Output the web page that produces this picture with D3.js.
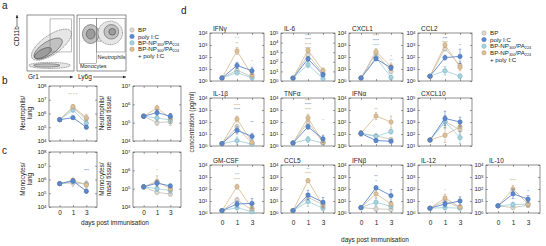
<!DOCTYPE html>
<html>
<head>
<meta charset="utf-8">
<script src="https://cdn.jsdelivr.net/npm/d3@7"></script>
<style>
body { margin: 0; background: #fff; }
svg { display: block; font-family: 'Liberation Sans', Arial, sans-serif; }
</style>
</head>
<body>
<svg id="fig" width="546" height="246"></svg>
<script>
// Global data (values are log10 of the plotted means)
var days = ['0', '1', '3'];
var groups = ['BP', 'poly I:C', 'BP-NP300/PA224', 'BP-NP300/PA224 + poly I:C'];
var groupFill = ['#dedad3', '#5c88cc', '#a5d3df', '#dcc099'];
var groupStroke = ['#a9a49b', '#3f69ae', '#70abbc', '#b9986b'];
var drawOrder = [0, 2, 3, 1];

// rows: BP, poly I:C, BP-NP, BP-NP + poly I:C
var neutLung = [[5.55, 6.4, 5.6], [5.55, 5.7, 5.0], [5.55, 6.25, 5.3], [5.55, 6.5, 5.7]];
var neutLungErr = [[0.05, 0.15, 0.2], [0.05, 0.1, 0.1], [0.05, 0.15, 0.2], [0.05, 0.15, 0.25]];
var neutNasal = [[5.35, 5.0, 5.05], [5.35, 5.55, 5.35], [5.35, 5.25, 5.15], [5.35, 5.8, 5.25]];
var neutNasalErr = [[0.1, 0.15, 0.2], [0.1, 0.15, 0.15], [0.1, 0.2, 0.2], [0.1, 0.15, 0.25]];
var monoLung = [[5.7, 5.75, 5.7], [5.7, 5.9, 5.15], [5.7, 5.85, 5.65], [5.7, 5.95, 5.6]];
var monoLungErr = [[0.05, 0.25, 0.2], [0.05, 0.15, 0.15], [0.05, 0.15, 0.15], [0.05, 0.15, 0.2]];
var monoNasal = [[5.1, 4.8, 4.7], [5.1, 5.3, 5.15], [5.1, 5.0, 4.9], [5.1, 5.4, 5.0]];
var monoNasalErr = [[0.1, 0.1, 0.1], [0.1, 0.15, 0.1], [0.1, 0.15, 0.15], [0.1, 0.3, 0.15]];

var ifng = [[0.25, 0.9, 0.35], [0.25, 1.3, 0.85], [0.25, 0.7, 0.25], [0.25, 2.5, 0.5]];
var ifngErr = [[0.05, 0.2, 0.2], [0.05, 0.25, 0.3], [0.05, 0.2, 0.1], [0.05, 0.3, 0.25]];
var il6 = [[0.3, 2.7, 0.8], [0.3, 2.3, 0.65], [0.3, 1.7, 0.25], [0.3, 3.2, 1.1]];
var il6Err = [[0.05, 0.25, 0.2], [0.05, 0.25, 0.2], [0.05, 0.3, 0.15], [0.05, 0.25, 0.25]];
var cxcl1 = [[0.25, 2.3, 0.8], [0.25, 1.85, 1.1], [0.25, 1.95, 0.3], [0.25, 2.45, 1.2]];
var cxcl1Err = [[0.05, 0.2, 0.2], [0.05, 0.15, 0.2], [0.05, 0.2, 0.15], [0.05, 0.25, 0.3]];
var ccl2 = [[0.4, 2.7, 1.3], [0.4, 1.95, 2.05], [0.4, 0.85, 0.4], [0.4, 3.0, 1.15]];
var ccl2Err = [[0.05, 0.2, 0.3], [0.05, 0.2, 0.6], [0.05, 0.35, 0.2], [0.05, 0.2, 0.3]];
var il1b = [[0.2, 1.6, 0.2], [0.2, 1.3, 0.8], [0.2, 0.45, 0.15], [0.2, 2.25, 0.3]];
var il1bErr = [[0.05, 0.2, 0.1], [0.05, 0.3, 0.25], [0.05, 0.3, 0.1], [0.05, 0.25, 0.15]];
var tnfa = [[0.25, 2.0, 0.3], [0.25, 1.6, 0.6], [0.25, 0.55, 0.25], [0.25, 2.35, 0.3]];
var tnfaErr = [[0.05, 0.25, 0.15], [0.05, 0.2, 0.3], [0.05, 0.25, 0.1], [0.05, 0.3, 0.15]];
var ifna = [[1.05, 0.85, 0.55], [1.05, 0.45, 0.4], [1.05, 0.8, 1.2], [1.05, 2.5, 2.0]];
var ifnaErr = [[0.2, 0.15, 0.15], [0.2, 0.15, 0.15], [0.2, 0.15, 0.2], [0.2, 0.3, 0.5]];
var cxcl10 = [[1.5, 3.05, 2.35], [1.5, 3.3, 3.0], [1.5, 3.0, 1.7], [1.5, 1.9, 2.6]];
var cxcl10Err = [[0.1, 0.5, 0.4], [0.1, 0.6, 0.4], [0.1, 0.5, 0.5], [0.1, 0.6, 0.4]];
var gmcsf = [[0.2, 1.1, 0.25], [0.2, 0.75, 0.8], [0.2, 0.45, 0.1], [0.2, 2.2, 0.4]];
var gmcsfErr = [[0.05, 0.2, 0.1], [0.05, 0.25, 0.4], [0.05, 0.2, 0.1], [0.05, 0.2, 0.2]];
var ccl5 = [[0.2, 1.3, 0.7], [0.2, 1.5, 0.9], [0.2, 0.95, 0.4], [0.2, 2.7, 0.6]];
var ccl5Err = [[0.05, 0.3, 0.2], [0.05, 0.4, 0.4], [0.05, 0.4, 0.2], [0.05, 0.15, 0.2]];
var ifnb = [[0.45, 0.35, 0.3], [0.45, 2.1, 1.45], [0.45, 0.9, 0.55], [0.45, 1.6, 0.75]];
var ifnbErr = [[0.1, 0.2, 0.15], [0.1, 0.15, 0.5], [0.1, 0.3, 0.2], [0.1, 0.3, 0.2]];
var il12 = [[0.4, 1.0, 0.45], [0.4, 0.75, 1.0], [0.4, 0.45, 0.4], [0.4, 1.25, 0.5]];
var il12Err = [[0.05, 0.2, 0.1], [0.05, 0.25, 0.35], [0.05, 0.2, 0.1], [0.05, 0.3, 0.15]];
var il10 = [[0.6, 0.45, 0.65], [0.6, 1.6, 1.15], [0.6, 0.7, 0.75], [0.6, 2.0, 0.75]];
var il10Err = [[0.05, 0.15, 0.2], [0.05, 0.4, 0.3], [0.05, 0.2, 0.2], [0.05, 0.3, 0.25]];

// significance marks: day index, log10 height, group colour, text
var neutLungStars = [{d: 1, v: 7.4, g: 3, t: '**  *  *'}];
var monoLungStars = [{d: 2, v: 6.7, g: 1, t: '***'}];
var monoNasalStars = [{d: 1, v: 6.0, g: 3, t: '*'}];
var ifngStars = [{d: 1, v: 3.6, g: 2, t: '* *'}, {d: 1, v: 3.2, g: 3, t: '**'}, {d: 2, v: 1.7, g: 0, t: '*'}];
var il6Stars = [{d: 1, v: 4.8, g: 2, t: '****'}, {d: 1, v: 4.35, g: 1, t: '****'}, {d: 1, v: 3.9, g: 3, t: '****'}, {d: 1, v: 3.45, g: 0, t: '****'}];
var cxcl1Stars = [{d: 1, v: 3.8, g: 3, t: '****'}, {d: 1, v: 3.42, g: 1, t: '****'}, {d: 1, v: 3.04, g: 2, t: '****'}, {d: 2, v: 2.1, g: 3, t: '*'}, {d: 2, v: 1.72, g: 2, t: '**'}];
var ccl2Stars = [{d: 1, v: 3.95, g: 3, t: '****'}, {d: 1, v: 3.6, g: 1, t: '***'}, {d: 1, v: 3.25, g: 3, t: '****'}, {d: 2, v: 3.0, g: 1, t: '*'}];
var il1bStars = [{d: 1, v: 3.45, g: 3, t: '****'}, {d: 1, v: 3.05, g: 1, t: '****'}, {d: 2, v: 2.0, g: 1, t: '**'}];
var tnfaStars = [{d: 1, v: 3.85, g: 3, t: '****'}, {d: 1, v: 3.47, g: 1, t: '****'}, {d: 1, v: 3.09, g: 3, t: '****'}, {d: 2, v: 2.2, g: 2, t: '*'}];
var ifnaStars = [{d: 1, v: 3.1, g: 3, t: '**'}];
var cxcl10Stars = [];
var gmcsfStars = [{d: 1, v: 3.25, g: 2, t: '***'}, {d: 1, v: 2.85, g: 3, t: '****'}];
var ccl5Stars = [{d: 1, v: 3.7, g: 2, t: '**'}, {d: 1, v: 3.3, g: 3, t: '****'}];
var ifnbStars = [{d: 1, v: 3.05, g: 1, t: '**'}, {d: 1, v: 2.65, g: 1, t: '*'}];
var il12Stars = [{d: 1, v: 1.95, g: 3, t: '*'}];
var il10Stars = [{d: 1, v: 2.75, g: 3, t: '****'}, {d: 2, v: 1.85, g: 1, t: '*'}];

// flow plots, normalised axes: [cx, cy, rx, ry, angle]
var flowContours1 = [
	[0.52, 0.47, 0.50, 0.17, -35], [0.45, 0.40, 0.35, 0.12, -33], [0.34, 0.32, 0.20, 0.07, -28],
	[0.48, 0.10, 0.44, 0.055, 0], [0.42, 0.10, 0.28, 0.03, 0]
];
var flowContours2 = [
	[0.48, 0.64, 0.30, 0.11, 0],
	[0.28, 0.66, 0.17, 0.17, 0], [0.28, 0.66, 0.09, 0.09, 0],
	[0.68, 0.68, 0.25, 0.21, 0], [0.70, 0.70, 0.15, 0.13, 0], [0.72, 0.70, 0.07, 0.06, 0]
];
var flowGates1 = [[0.49, 0.34, 0.95, 0.93]];
var flowGates2 = [[0.05, 0.13, 0.40, 0.94], [0.40, 0.34, 0.98, 0.94]];

var svg = d3.select('#fig');
var ink = '#222';

var makeTranslate = function(x, y) {
	return 'translate(' + x + ',' + y + ')';
};

var powLabel = function(sel) {
	sel.each(function(d) {
		var e = Math.round(Math.log10(d));
		var t = d3.select(this);
		t.text('10');
		t.append('tspan').attr('dy', '-0.45em').attr('font-size', '4.3px').text(e);
	});
};

/*
 * One small log-scale time course.
 */
var drawPlot = function(cfg) {
	var g = svg.append('g');
	var x = d3.scalePoint().domain(days).range([cfg.left, cfg.left + cfg.w]).padding(0.8);
	var y = d3.scaleLog()
		.domain([Math.pow(10, cfg.lo), Math.pow(10, cfg.hi)])
		.range([cfg.top + cfg.h, cfg.top]);
	var decades = d3.range(cfg.lo, cfg.hi + 1).map(function(e) {
		return Math.pow(10, e);
	});

	var styleAxis = function(a) {
		a.attr('font-family', null).attr('font-size', null);
		a.select('.domain').remove();
		a.selectAll('line').attr('stroke', '#444').attr('stroke-width', 0.5);
		a.selectAll('text').attr('fill', ink).attr('font-size', '6px');
	};

	g.append('g').attr('transform', makeTranslate(cfg.left, 0))
		.call(d3.axisLeft(y).tickValues(decades).tickSizeInner(-2).tickSizeOuter(0).tickPadding(2.5))
		.call(styleAxis)
		.selectAll('text').call(powLabel);
	g.append('g').attr('transform', makeTranslate(cfg.left + cfg.w, 0))
		.call(d3.axisRight(y).tickValues(decades).tickSizeInner(-2).tickSizeOuter(0).tickFormat(''))
		.call(styleAxis);
	g.append('g').attr('transform', makeTranslate(0, cfg.top))
		.call(d3.axisTop(x).tickSizeInner(-2).tickSizeOuter(0).tickFormat(''))
		.call(styleAxis);
	var bottom = g.append('g').attr('transform', makeTranslate(0, cfg.top + cfg.h))
		.call(d3.axisBottom(x).tickSizeInner(-2).tickSizeOuter(0).tickPadding(cfg.xPad || 4))
		.call(styleAxis);
	if (cfg.showX) {
		bottom.selectAll('text').attr('font-size', '6.5px');
	} else {
		bottom.selectAll('text').remove();
	}

	g.append('rect')
		.attr('x', cfg.left).attr('y', cfg.top)
		.attr('width', cfg.w).attr('height', cfg.h)
		.attr('fill', 'none').attr('stroke', '#444').attr('stroke-width', 0.6);

	var yv = function(v) {
		return y(Math.pow(10, Math.max(cfg.lo, Math.min(cfg.hi, v))));
	};

	var line = d3.line()
		.x(function(d, i) { return x(days[i]); })
		.y(function(d) { return yv(d); });

	drawOrder.forEach(function(s) {
		var vals = cfg.data[s];
		var errs = cfg.err[s];
		var sg = g.append('g');
		sg.append('path')
			.attr('d', line(vals))
			.attr('fill', 'none')
			.attr('stroke', s === 0 ? '#c9c4ba' : groupFill[s])
			.attr('stroke-width', 0.9);
		vals.forEach(function(v, i) {
			var cx = x(days[i]);
			var y0 = yv(v - errs[i]);
			var y1 = yv(v + errs[i]);
			sg.append('line').attr('x1', cx).attr('x2', cx).attr('y1', y0).attr('y2', y1)
				.attr('stroke', groupStroke[s]).attr('stroke-width', 0.5);
			[y0, y1].forEach(function(yy) {
				sg.append('line').attr('x1', cx - 1.3).attr('x2', cx + 1.3).attr('y1', yy).attr('y2', yy)
					.attr('stroke', groupStroke[s]).attr('stroke-width', 0.5);
			});
		});
		sg.selectAll('circle').data(vals).enter().append('circle')
			.attr('cx', function(d, i) { return x(days[i]); })
			.attr('cy', function(d) { return yv(d); })
			.attr('r', 2.2)
			.attr('fill', groupFill[s])
			.attr('stroke', groupStroke[s])
			.attr('stroke-width', 0.5);
	});

	g.selectAll('text.star').data(cfg.stars || []).enter().append('text')
		.attr('class', 'star')
		.attr('x', function(d) { return x(days[d.d]); })
		.attr('y', function(d) { return yv(d.v) + 2; })
		.attr('text-anchor', 'middle')
		.attr('font-size', '4.2px')
		.attr('fill', function(d) { return groupStroke[d.g]; })
		.text(function(d) { return d.t; });

	if (cfg.title) {
		g.append('text')
			.attr('x', cfg.left + 3)
			.attr('y', cfg.top - 2)
			.attr('font-size', '6.5px')
			.attr('fill', ink)
			.text(cfg.title);
	}
};

/*
 * Legend with subscripts.
 */
var drawLegend = function(lx, ly, step) {
	var g = svg.append('g').attr('font-size', '6.2px').attr('fill', ink);
	groups.forEach(function(name, i) {
		var yy = ly + i * step;
		g.append('circle').attr('cx', lx).attr('cy', yy).attr('r', 2.2)
			.attr('fill', groupFill[i]).attr('stroke', groupStroke[i]).attr('stroke-width', 0.5);
		var t = g.append('text').attr('x', lx + 6).attr('y', yy + 2.2);
		if (i < 2) {
			t.text(name);
		} else {
			t.append('tspan').text('BP-NP');
			t.append('tspan').attr('font-size', '3.8px').attr('dy', 0.9).text('300');
			t.append('tspan').attr('dy', -0.9).text('/PA');
			t.append('tspan').attr('font-size', '3.8px').attr('dy', 0.9).text('224');
		}
	});
	g.append('text').attr('x', lx + 6).attr('y', ly + 4 * step + 2.6).text('+  poly I:C');
};

/*
 * Flow cytometry gating plots.
 */
var drawFlow = function(x0, x1, y0, y1, contours, gates) {
	var fx = d3.scaleLinear().domain([0, 1]).range([x0, x1]);
	var fy = d3.scaleLinear().domain([0, 1]).range([y1, y0]);
	var g = svg.append('g');
	var shades = d3.scaleLinear().domain([0, 2]).range(['#e6e6e6', '#9c9c9c']);
	var level = 0;
	contours.forEach(function(c, i) {
		if (i > 0 && c[2] >= contours[i - 1][2]) {
			level = 0;
		} else if (i > 0) {
			level += 1;
		}
		g.append('ellipse')
			.attr('transform', makeTranslate(fx(c[0]), fy(c[1])) + ' rotate(' + c[4] + ')')
			.attr('rx', c[2] * (x1 - x0))
			.attr('ry', c[3] * (y1 - y0))
			.attr('fill', shades(Math.min(level, 2)))
			.attr('stroke', '#333')
			.attr('stroke-width', 0.45)
			.attr('stroke-dasharray', i === 0 || level === 0 ? '1.2,0.6' : null);
	});
	gates.forEach(function(r) {
		g.append('rect')
			.attr('x', fx(r[0])).attr('y', fy(r[3]))
			.attr('width', fx(r[2]) - fx(r[0])).attr('height', fy(r[1]) - fy(r[3]))
			.attr('fill', 'none').attr('stroke', '#777').attr('stroke-width', 0.5);
	});
	g.append('rect')
		.attr('x', x0).attr('y', y0).attr('width', x1 - x0).attr('height', y1 - y0)
		.attr('fill', 'none').attr('stroke', '#444').attr('stroke-width', 0.6);
	return {x: fx, y: fy};
};

var letter = function(t, x, y) {
	svg.append('text').attr('x', x).attr('y', y).attr('font-size', '10px').attr('fill', ink).text(t);
};

var drawArrow = function(xa, ya, xb, yb) {
	svg.append('line').attr('x1', xa).attr('y1', ya).attr('x2', xb).attr('y2', yb)
		.attr('stroke', ink).attr('stroke-width', 0.6);
	var ang = Math.atan2(yb - ya, xb - xa);
	var p = [[xb, yb],
		[xb - 3 * Math.cos(ang) + 1.3 * Math.sin(ang), yb - 3 * Math.sin(ang) - 1.3 * Math.cos(ang)],
		[xb - 3 * Math.cos(ang) - 1.3 * Math.sin(ang), yb - 3 * Math.sin(ang) + 1.3 * Math.cos(ang)]];
	svg.append('path').attr('d', 'M' + p.join('L') + 'Z').attr('fill', ink);
};

var rotLabel = function(lines, x, y, size) {
	var t = svg.append('text')
		.attr('transform', makeTranslate(x, y) + ' rotate(-90)')
		.attr('text-anchor', 'middle')
		.attr('font-size', size)
		.attr('fill', ink);
	lines.forEach(function(l, i) {
		t.append('tspan').attr('x', 0).attr('dy', i === 0 ? 0 : '1.05em').text(l);
	});
};

/*
 * Panel a
 */
letter('a', 2, 9);
drawFlow(27, 74, 15, 71, flowContours1, flowGates1);
var f2 = drawFlow(77, 126, 15, 71, flowContours2, flowGates2);
svg.append('text').attr('x', f2.x(0.42)).attr('y', f2.y(0.22)).attr('font-size', '5.5px').attr('fill', ink).text('Neutrophils');
svg.append('text').attr('x', f2.x(0.06)).attr('y', f2.y(0.05)).attr('font-size', '5.5px').attr('fill', ink).text('Monocytes');
svg.append('text').attr('x', 28).attr('y', 79).attr('font-size', '6.5px').attr('fill', ink).text('Gr1');
drawArrow(40, 77, 73, 77);
svg.append('text').attr('x', 78).attr('y', 79).attr('font-size', '6.5px').attr('fill', ink).text('Ly6g');
drawArrow(93, 77, 126, 77);
svg.append('text').attr('transform', makeTranslate(19, 46) + ' rotate(-90)')
	.attr('font-size', '6.5px').attr('fill', ink).text('CD11b');
drawArrow(17, 26, 17, 15);
drawLegend(132, 30, 6.4);

/*
 * Panels b and c
 */
letter('b', 2, 84);
letter('c', 2, 154);
drawPlot({left: 49, top: 86, w: 48, h: 55, lo: 4, hi: 8, data: neutLung, err: neutLungErr, stars: neutLungStars});
drawPlot({left: 133, top: 86, w: 48, h: 55, lo: 4, hi: 7, data: neutNasal, err: neutNasalErr});
drawPlot({left: 49, top: 152, w: 48, h: 55, lo: 4, hi: 8, data: monoLung, err: monoLungErr, stars: monoLungStars, showX: true, xPad: 3});
drawPlot({left: 133, top: 152, w: 48, h: 55, lo: 4, hi: 7, data: monoNasal, err: monoNasalErr, stars: monoNasalStars, showX: true, xPad: 3});
rotLabel(['Neutrophils/', 'lung'], 25, 113, '6.5px');
rotLabel(['Neutrophils/', 'nasal tissue'], 104, 113, '6.5px');
rotLabel(['Monocytes/', 'lung'], 25, 179, '6.5px');
rotLabel(['Monocytes/', 'nasal tissue'], 104, 179, '6.5px');
svg.append('text').attr('x', 115).attr('y', 225).attr('text-anchor', 'middle')
	.attr('font-size', '6.5px').attr('fill', ink).text('days post immunisation');

/*
 * Panel d
 */
letter('d', 181, 14);
var colLeft = [210, 281, 349, 418, 486];
var rowTop = [33, 98, 165];
var cytoPlots = [
	['IFNγ', 0, 0, ifng, ifngErr, ifngStars, 0, 4],
	['IL-6', 1, 0, il6, il6Err, il6Stars, 0, 5],
	['CXCL1', 2, 0, cxcl1, cxcl1Err, cxcl1Stars, 0, 4],
	['CCL2', 3, 0, ccl2, ccl2Err, ccl2Stars, 0, 4],
	['IL-1β', 0, 1, il1b, il1bErr, il1bStars, 0, 4],
	['TNFα', 1, 1, tnfa, tnfaErr, tnfaStars, 0, 4],
	['IFNα', 2, 1, ifna, ifnaErr, ifnaStars, 0, 4],
	['CXCL10', 3, 1, cxcl10, cxcl10Err, cxcl10Stars, 1, 5],
	['GM-CSF', 0, 2, gmcsf, gmcsfErr, gmcsfStars, 0, 4],
	['CCL5', 1, 2, ccl5, ccl5Err, ccl5Stars, 0, 4],
	['IFNβ', 2, 2, ifnb, ifnbErr, ifnbStars, 0, 4],
	['IL-12', 3, 2, il12, il12Err, il12Stars, 0, 4],
	['IL-10', 4, 2, il10, il10Err, il10Stars, 0, 4]
];
cytoPlots.forEach(function(p) {
	drawPlot({
		title: p[0], left: colLeft[p[1]], top: rowTop[p[2]], w: 54, h: 48,
		data: p[3], err: p[4], stars: p[5], lo: p[6], hi: p[7],
		showX: p[2] === 2, xPad: 7
	});
});
drawLegend(484, 33, 6.6);
rotLabel(['concentration (pg/ml)'], 194, 122, '6.5px');
svg.append('text').attr('x', 375).attr('y', 242).attr('text-anchor', 'middle')
	.attr('font-size', '6.5px').attr('fill', ink).text('days post immunisation');
</script>
</body>
</html>
